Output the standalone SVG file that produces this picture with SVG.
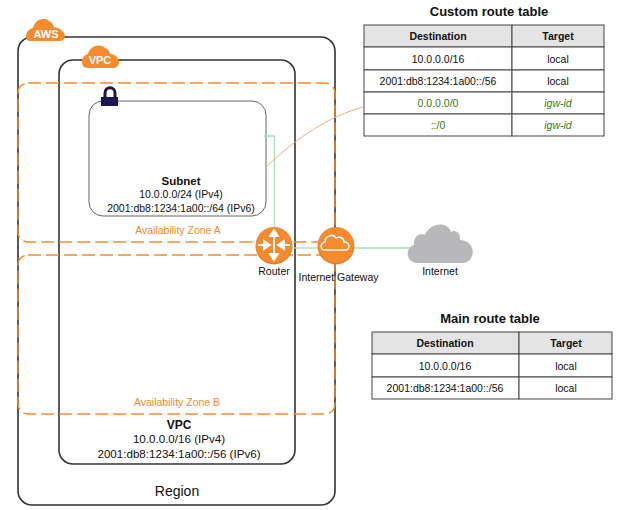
<svg xmlns="http://www.w3.org/2000/svg" width="625" height="510" viewBox="0 0 625 510">
<style>
text{font-family:"Liberation Sans",Arial,sans-serif;fill:#111;text-anchor:middle;font-size:10.5px}
.b{font-weight:bold}
.vt{font-size:11.6px}
.box{fill:none;stroke:#333;stroke-width:1.6}
.az{fill:none;stroke:#f58a2e;stroke-width:1.4;stroke-dasharray:13 5}
.azt{fill:#f58a2e;font-size:10.5px}
.cell{fill:#fff;stroke:#444;stroke-width:1}
.head{fill:#e4e4e4;stroke:#444;stroke-width:1}
.tt{font-weight:bold;font-size:13px}
.g{fill:#2f7d14}
.gi{fill:#2f7d14;font-style:italic}
.conn{fill:none;stroke:#a8dfb4;stroke-width:1.3}
.cloud{fill:#f58a2e}
.arrow{stroke:#fff;stroke-width:1.8;fill:#fff}
</style>
<rect width="625" height="510" fill="#fff"/>
<g id="region"><rect class="box" x="18" y="37" width="317" height="468" rx="14"/><text x="177" y="496" style="font-size:14px">Region</text></g>
<g id="vpc"><rect class="box" x="59" y="60" width="236" height="404" rx="14"/>
<text x="179" y="429" class="b" style="font-size:12px">VPC</text><text x="179" y="443" class="vt">10.0.0.0/16 (IPv4)</text><text x="179" y="458" class="vt">2001:db8:1234:1a00::/56 (IPv6)</text></g>
<g id="zone-a"><rect class="az" x="18" y="83" width="317" height="159" rx="10"/><text class="azt" x="178" y="234">Availability Zone A</text></g>
<g id="zone-b"><rect class="az" x="18" y="255" width="317" height="159" rx="10"/><text class="azt" x="177" y="406">Availability Zone B</text></g>
<g id="subnet"><rect x="89" y="101" width="177" height="115" rx="14" fill="none" stroke="#666" stroke-width="1"/>
<text x="181" y="185" class="b" style="font-size:11.5px">Subnet</text><text x="181" y="198">10.0.0.0/24 (IPv4)</text><text x="181" y="212">2001:db8:1234:1a00::/64 (IPv6)</text></g>
<g id="connectors">
<path class="conn" d="M264 136H274.5V230"/>
<path class="conn" d="M290 248H320"/>
<path class="conn" d="M354 248H412"/>
<path d="M266 167Q315 120 363 107" fill="none" stroke="#f3ab8c" stroke-width="1"/>
</g>
<g id="aws-badge"><path class="cloud" d="M27 40C24 33 29 29 33 28C35 20 44 16 49 21C53 23 54 26 54 27C60 28 65 32 65 36C65 39 62 41 59 41H33C30 41 28 41 27 40Z"/><text x="46" y="38" class="b" style="fill:#fff;font-size:11px">AWS</text></g>
<g id="vpc-badge"><path class="cloud" d="M83 66C80 59 84 55 88 54C90 46 100 43 105 48C108 49 110 52 110 54C116 54 119 59 119 62C119 66 116 68 113 68H89C86 68 84 67 83 66Z"/><text x="100" y="64" class="b" style="fill:#fff;font-size:11px">VPC</text></g>
<g id="lock"><path d="M105 98V93C105 86 115 86 115 93V98" fill="none" stroke="#1b1650" stroke-width="3"/><rect x="101" y="97" width="17" height="9" fill="#1b1650"/></g>
<g id="router"><circle cx="274" cy="246" r="18.5" fill="#e07a28"/><circle cx="274" cy="245" r="18" fill="#f58a2e"/><path class="arrow" d="M274 235V256M274 230l-4 6h8zM274 260l-4-6h8zM258 245h7M270 245l-6-4v8zM290 245h-7M278 245l6-4v8z"/><text x="274" y="275">Router</text></g>
<g id="internet-gateway"><circle cx="336" cy="246" r="18.5" fill="#e07a28"/><circle cx="336" cy="245" r="18" fill="#f58a2e"/><path d="M325 250C320 250 320 243 325 242C325 236 333 233 336 238C340 236 344 238 344 242C350 242 351 250 345 250Z" fill="none" stroke="#fff" stroke-width="1.5"/><text x="338.500" y="281">Internet Gateway</text></g>
<g id="internet"><path d="M418 263C405 263 405 247 414 245C413 237 420 232 425 235C430 222 448 221 451 232C456 229 461 234 460 240C470 240 476 250 471 258C469 262 465 263 462 263Z" fill="#b8b8ba"/><text x="440" y="275">Internet</text></g>
<g id="custom-route-table">
<text x="489" y="16" class="tt">Custom route table</text>
<rect class="head" x="364" y="25" width="148" height="22"/><rect class="head" x="512" y="25" width="92" height="22"/>
<rect class="cell" x="364" y="47" width="148" height="23"/><rect class="cell" x="512" y="47" width="92" height="23"/>
<rect class="cell" x="364" y="70" width="148" height="22"/><rect class="cell" x="512" y="70" width="92" height="22"/>
<rect class="cell" x="364" y="92" width="148" height="22"/><rect class="cell" x="512" y="92" width="92" height="22"/>
<rect class="cell" x="364" y="114" width="148" height="22"/><rect class="cell" x="512" y="114" width="92" height="22"/>
<text x="438" y="40" class="b">Destination</text><text x="558" y="40" class="b">Target</text>
<text x="438" y="63">10.0.0.0/16</text><text x="558" y="63">local</text>
<text x="438" y="85">2001:db8:1234:1a00::/56</text><text x="558" y="85">local</text>
<text x="438" y="107" class="g">0.0.0.0/0</text><text x="558" y="107" class="gi">igw-id</text>
<text x="438" y="129" class="g">::/0</text><text x="558" y="129" class="gi">igw-id</text>
</g>
<g id="main-route-table">
<text x="490" y="323" class="tt">Main route table</text>
<rect class="head" x="372" y="332" width="147" height="22"/><rect class="head" x="519" y="332" width="93" height="22"/>
<rect class="cell" x="372" y="354" width="147" height="23"/><rect class="cell" x="519" y="354" width="93" height="23"/>
<rect class="cell" x="372" y="377" width="147" height="22"/><rect class="cell" x="519" y="377" width="93" height="22"/>
<text x="445" y="347" class="b">Destination</text><text x="566" y="347" class="b">Target</text>
<text x="445" y="370">10.0.0.0/16</text><text x="566" y="370">local</text>
<text x="445" y="392">2001:db8:1234:1a00::/56</text><text x="566" y="392">local</text>
</g>
</svg>
